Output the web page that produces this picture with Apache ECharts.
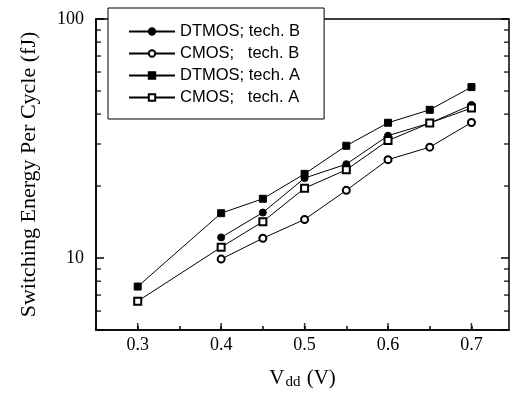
<!DOCTYPE html>
<html>
<head>
<meta charset="utf-8">
<title>Switching energy</title>
<script src="https://cdn.jsdelivr.net/npm/echarts@6/dist/echarts.min.js"></script>
<style>
  html, body { margin: 0; padding: 0; background: #fff; }
  #main { width: 510px; height: 403px; }
</style>
</head>
<body>
<div id="main"></div>
<script>
// values (fJ)
var vdd    = [0.3, 0.4, 0.45, 0.5, 0.55, 0.6, 0.65, 0.7];
var dtmosB = [null, 12.2, 15.5, 21.6, 24.7, 32.5, 36.7, 43.7];
var cmosB  = [null, 9.9, 12.1, 14.5, 19.2, 25.8, 29.1, 36.9];
var dtmosA = [7.6, 15.4, 17.7, 22.5, 29.5, 36.8, 41.7, 51.9];
var cmosA  = [6.6, 11.1, 14.2, 19.6, 23.4, 31.0, 36.7, 42.4];

var names = ['DTMOS; tech. B', 'CMOS;   tech. B', 'DTMOS; tech. A', 'CMOS;   tech. A'];

// minor ticks of the log axis and the longer x ticks (the rest come from the axes)
var yMinorTicks = [6, 7, 8, 9, 20, 30, 40, 50, 60, 70, 80, 90];
var xMajorTicks = [0.3, 0.4, 0.5, 0.6, 0.7];

var X_MIN = 0.25, X_MAX = 0.745, Y_MIN = 5, Y_MAX = 100;

function pairs(ys) {
  var out = [];
  ys.forEach(function (y, i) { if (y != null) out.push([vdd[i], y]); });
  return out;
}

var tickData = [];
yMinorTicks.forEach(function (v) {
  tickData.push({ value: [X_MIN, v], symbolSize: [5, 1.5], symbolOffset: [2.5, 0] });
  tickData.push({ value: [X_MAX, v], symbolSize: [5, 1.5], symbolOffset: [-2.5, 0] });
});
xMajorTicks.forEach(function (v) {
  tickData.push({ value: [v, Y_MIN], symbolSize: [1.5, 7], symbolOffset: [0, -3.5] });
});

function lineSeries(name, ys, symbol) {
  return {
    name: name,
    type: 'line',
    data: pairs(ys),
    symbol: symbol,
    symbolSize: 7,
    showAllSymbol: true,
    lineStyle: { color: '#000', width: 1 },
    itemStyle: { color: '#000', borderColor: '#000', borderWidth: 1 },
    emphasis: { disabled: true },
    z: 3
  };
}

var logAxisBase = {
  type: 'log', logBase: 10,
  min: Y_MIN, max: Y_MAX,
  splitLine: { show: false },
  axisTick: { show: true, inside: true, length: 8, lineStyle: { color: '#000', width: 1.5 } }
};

var chart = echarts.init(document.getElementById('main'));
chart.setOption({
  animation: false,
  backgroundColor: '#fff',
  grid: {
    left: 96, top: 19, right: 1, bottom: 73,
    show: true, borderColor: '#000', borderWidth: 1.5
  },
  legend: {
    data: names,
    orient: 'vertical',
    left: 108, top: 8,
    padding: [15, 24, 13, 20],
    itemWidth: 46, itemHeight: 8, itemGap: 5,
    backgroundColor: '#fff',
    borderColor: '#000', borderWidth: 1,
    textStyle: { fontFamily: 'Liberation Sans', fontSize: 16.5, lineHeight: 16.3, color: '#000' }
  },
  xAxis: {
    type: 'value',
    min: X_MIN, max: X_MAX, interval: 0.05,
    axisLine: { lineStyle: { color: '#000', width: 1.5 } },
    axisTick: { show: true, inside: true, length: 4, lineStyle: { color: '#000', width: 1.5 } },
    splitLine: { show: false },
    axisLabel: {
      color: '#000', fontFamily: 'Liberation Serif', fontSize: 18, margin: 6,
      showMaxLabel: false,
      formatter: function (v) {
        var t = Math.round(v * 100);
        return (t % 10 === 0 && t >= 30) ? (t / 100).toFixed(1) : '';
      }
    },
    name: '{v|V}{s|dd}{v| (V)}',
    nameLocation: 'middle',
    nameGap: 20,
    nameTextStyle: {
      rich: {
        v: { fontFamily: 'Liberation Serif', fontSize: 21, color: '#000', lineHeight: 22, verticalAlign: 'top' },
        s: { fontFamily: 'Liberation Serif', fontSize: 15, color: '#000', lineHeight: 14, padding: [16, 1, 0, 1], verticalAlign: 'bottom' }
      }
    }
  },
  yAxis: [
    Object.assign({}, logAxisBase, {
      position: 'left',
      axisLine: { show: true, lineStyle: { color: '#000', width: 1.5 } },
      axisLabel: {
        color: '#000', fontFamily: 'Liberation Serif', fontSize: 18, margin: 12,
        formatter: function (v) {
          var l = Math.log(v) / Math.LN10;
          return Math.abs(l - Math.round(l)) < 1e-6 ? String(Math.round(v)) : '';
        }
      },
      name: 'Switching Energy Per Cycle (fJ)',
      nameLocation: 'middle',
      nameGap: 56,
      nameTextStyle: { fontFamily: 'Liberation Serif', fontSize: 22, color: '#000' }
    }),
    Object.assign({}, logAxisBase, {
      position: 'right',
      axisLine: { show: false },
      axisLabel: { show: false }
    })
  ],
  series: [
    lineSeries(names[0], dtmosB, 'circle'),
    lineSeries(names[1], cmosB, 'emptyCircle'),
    lineSeries(names[2], dtmosA, 'rect'),
    lineSeries(names[3], cmosA, 'emptyRect'),
    {
      name: 'ticks',
      type: 'scatter',
      silent: true,
      clip: false,
      symbol: 'rect',
      data: tickData,
      itemStyle: { color: '#000' }
    }
  ]
});
</script>
</body>
</html>
